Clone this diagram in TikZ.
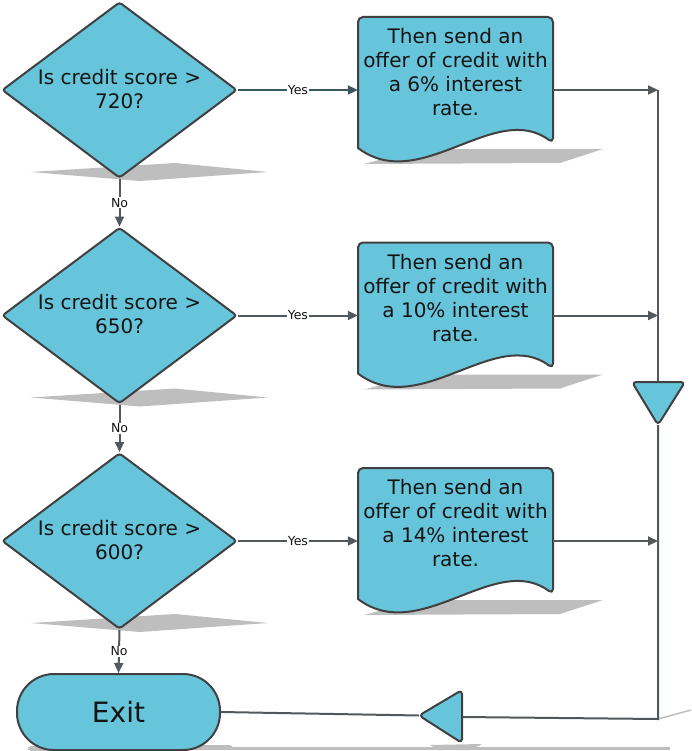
\documentclass[tikz,border=0pt]{standalone}
\usepackage{fontspec}
\setmainfont{DejaVu Sans}
\usetikzlibrary{shapes.geometric,arrows.meta,calc}
\definecolor{boxfill}{RGB}{103,197,219}
\definecolor{boxline}{RGB}{64,64,64}
\definecolor{connc}{RGB}{82,88,92}
\definecolor{conndark}{RGB}{58,88,98}
\definecolor{shadec}{RGB}{190,190,190}
\definecolor{textc}{RGB}{20,20,20}
\begin{document}
\begin{tikzpicture}[x=1pt,y=-1pt,
  decision/.style={diamond, draw=boxline, fill=boxfill, line width=2pt, minimum width=235pt, minimum height=176pt, inner sep=0pt, rounded corners=3pt},
  qtext/.style={align=center, text=textc, font=\fontsize{20}{24}\selectfont, inner sep=0pt},
  docbox/.style={rectangle, minimum width=195pt, minimum height=131pt, inner sep=0pt},
  doctext/.style={align=center, text=textc, font=\fontsize{20}{24}\selectfont, inner sep=0pt},
  docline/.style={draw=boxline, fill=boxfill, line width=2pt, line join=round},
  triline/.style={draw=boxline, fill=boxfill, line width=2pt, rounded corners=4pt, line join=round},
  terminal/.style={rectangle, rounded corners=37pt, draw=boxline, fill=boxfill, line width=2pt, minimum width=203pt, minimum height=76pt, font=\fontsize{28}{32}\selectfont, text=textc},
  conn/.style={draw=connc, line width=2pt},
  arr/.style={conn, -{Triangle[length=10pt,width=9pt]}},
  lbl/.style={fill=white, inner sep=1pt, font=\fontsize{12.5}{14}\selectfont, text=textc},
  shadow/.style={fill=shadec}
]
\useasboundingbox (0,0) rectangle (691,751);

% ---- shadows ----
\foreach \dy in {0,225.5,451}{
  \fill[shadow] (31,172+\dy) -- (175,163+\dy) -- (268,172+\dy) -- (140,181+\dy) -- cycle;
}
\draw[shadec, line width=3pt] (28,748) -- (670,748);
\fill[shadow] (30,746) -- (230,745) -- (236,749) -- (30,751) -- cycle;
\fill[shadow] (430,745) -- (482,744) -- (470,750) -- (440,750) -- cycle;
\draw[shadec, line width=1.5pt] (658,719) -- (691,710);

% ---- decisions ----
\node[decision] (q1) at (119.5,90) {};
\node[qtext] (q1t) at (119.5,89) {Is credit score >\\720?};
\node[decision] (q2) at (119.5,315.5) {};
\node[qtext] (q2t) at (119.5,314.5) {Is credit score >\\650?};
\node[decision] (q3) at (119.5,541) {};
\node[qtext] (q3t) at (119.5,540) {Is credit score >\\600?};

% ---- documents ----
\begin{scope}[shift={(0,17)}]
  \fill[shadow] (364,147) -- (420,132) -- (603,132) -- (560,146) -- cycle;
  \path[docline] (553,126) .. controls (495,83) and (420,178) .. (358,131) [rounded corners=5pt] -- (358,0) -- (553,0) -- cycle;
  \node[docbox] (d1) at (455.5,65.5) {};
  \node[doctext] (t1) at (455.5,55.5) {Then send an\\offer of credit with\\a 6\% interest\\rate.};
\end{scope}
\begin{scope}[shift={(0,242.5)}]
  \fill[shadow] (364,147) -- (420,132) -- (603,132) -- (560,146) -- cycle;
  \path[docline] (553,126) .. controls (495,83) and (420,178) .. (358,131) [rounded corners=5pt] -- (358,0) -- (553,0) -- cycle;
  \node[docbox] (d2) at (455.5,65.5) {};
  \node[doctext] (t2) at (455.5,55.5) {Then send an\\offer of credit with\\a 10\% interest\\rate.};
\end{scope}
\begin{scope}[shift={(0,468)}]
  \fill[shadow] (364,147) -- (420,132) -- (603,132) -- (560,146) -- cycle;
  \path[docline] (553,126) .. controls (495,83) and (420,178) .. (358,131) [rounded corners=5pt] -- (358,0) -- (553,0) -- cycle;
  \node[docbox] (d3) at (455.5,65.5) {};
  \node[doctext] (t3) at (455.5,55.5) {Then send an\\offer of credit with\\a 14\% interest\\rate.};
\end{scope}

% ---- exit ----
\node[terminal] (exit) at (118.5,712) {Exit};

% ---- junction coordinates ----
\coordinate (j1) at (658,90);
\coordinate (j2) at (658,315.5);
\coordinate (j3) at (658,541);
\coordinate (v1top) at (658,382);
\coordinate (v1tip) at (658,425);
\coordinate (corner) at (658,719);
\coordinate (rt) at (462,717);
\coordinate (lt) at (419,715.5);

% ---- connectors ----
\draw[arr, draw=conndark] (q1.east) -- node[lbl]{Yes} (q1.east -| d1.west);
\draw[arr] (q2.east) -- node[lbl]{Yes} (q2.east -| d2.west);
\draw[arr] (q3.east) -- node[lbl]{Yes} (q3.east -| d3.west);
\draw[arr] (q1.south) -- node[lbl]{No} (q2.north);
\draw[arr] (q2.south) -- node[lbl]{No} (q3.north);
\draw[arr] (q3.south) -- node[lbl]{No} (exit.north);

\draw[arr] (d1.east |- q1.east) -- (j1);
\draw[arr] (d2.east |- q2.east) -- (j2);
\draw[arr] (d3.east |- q3.east) -- (j3);
\draw[conn] (j1) -- (v1top);
\draw[conn] (v1tip) -- (corner) -- (rt);
\draw[conn] (lt) -- (exit.east);

% ---- merge triangles ----
\path[triline] (632,382) -- (685,382) -- (658,425) -- cycle;
\path[triline] (462,690) -- (462,743) -- (419,715.5) -- cycle;
\end{tikzpicture}
\end{document}
